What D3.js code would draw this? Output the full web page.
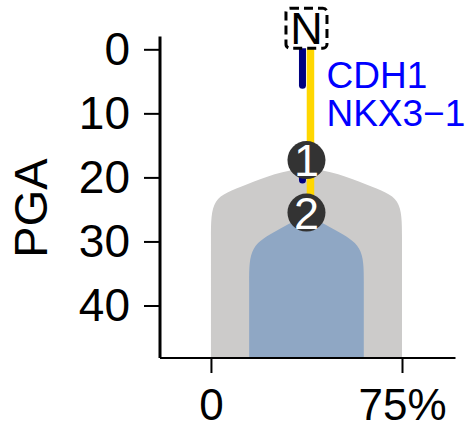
<!DOCTYPE html>
<html><head><meta charset="utf-8">
<script src="https://cdn.jsdelivr.net/npm/d3@7"></script>
<style>body{margin:0;background:#fff;} svg{display:block;font-family:"Liberation Sans",Arial,sans-serif;}</style>
</head><body><svg id="c" width="472" height="432"></svg>
<script>
// ---- data ----
const yTicks = [0, 10, 20, 30, 40];
const xTicks = [0, 75];
const xTickLabels = ["0", "75%"];
// clone outlines (x in %, y in PGA), smoothed with a basis curve
const grayX = [0, 0, 0, 0, 12, 37.5, 63, 75, 75, 75, 75];
const grayY = [48.2, 38, 29, 23.1, 21.5, 17.3, 21.5, 23.1, 29, 38, 48.2];
const blueX = [15, 15, 15, 15, 26, 37.5, 49, 60, 60, 60, 60];
const blueY = [48.2, 44, 36, 30.6, 28.4, 25.4, 28.4, 30.6, 36, 44, 48.2];
// lineage
const lineageX = 37.5;
const yellowSeg = [-0.3, 25.5];
const navySegs = [[-0.3, 5.6], [17.3, 20.4]];
const nodeLabels = ["1", "2"];
const nodePGA = [17.3, 25.5];
const rootLabel = "N";
const rootPGA = -3.3;
const geneLabels = ["CDH1", "NKX3−1"];
const genePGA = 6.0;

// ---- scales ----
const svg = d3.select("#c");
const x = d3.scaleLinear().domain([-20, 96]).range([160, 455.5]);
const y = d3.scaleLinear().domain([-2, 48.2]).range([36.5, 358]);

const line = d3.line().x(d => x(d[0])).y(d => y(d[1])).curve(d3.curveBasis);
svg.append("path").attr("d", line(d3.zip(grayX, grayY)) + "Z").attr("fill", "#cccbca");
svg.append("path").attr("d", line(d3.zip(blueX, blueY)) + "Z").attr("fill", "#8fa7c4");

// axes
const yAxis = svg.append("g").attr("transform", `translate(${x(-20)},0)`)
  .call(d3.axisLeft(y).tickValues(yTicks).tickSize(16).tickPadding(14));
yAxis.select(".domain").attr("stroke-width", 3).attr("d", `M0,${y(-2)}V${y(48.2)}`);
yAxis.selectAll(".tick line").attr("stroke-width", 2);
yAxis.selectAll(".tick text").attr("font-size", 46).attr("font-family", "Liberation Sans, Arial, sans-serif").attr("fill", "#000");

const xAxis = svg.append("g").attr("transform", `translate(0,${y(48.2)})`)
  .call(d3.axisBottom(x).tickValues(xTicks).tickFormat((d, i) => xTickLabels[i]).tickSize(15).tickPadding(16));
xAxis.select(".domain").attr("stroke-width", 2).attr("d", `M${x(-20)},0H${x(96)}`);
xAxis.selectAll(".tick line").attr("stroke-width", 2);
xAxis.selectAll(".tick text").attr("font-size", 44).attr("font-family", "Liberation Sans, Arial, sans-serif").attr("fill", "#000");

svg.append("text").attr("transform", `translate(47,${208}) rotate(-90)`)
  .attr("text-anchor", "middle").attr("font-size", 47).text("PGA");

// lineage lines
const cx = x(lineageX);
svg.append("line").attr("x1", cx + 4).attr("x2", cx + 4)
  .attr("y1", y(yellowSeg[0])).attr("y2", y(yellowSeg[1]))
  .attr("stroke", "#ffd700").attr("stroke-width", 7.5);
navySegs.forEach(s => {
  svg.append("line").attr("x1", cx - 4).attr("x2", cx - 4)
    .attr("y1", y(s[0])).attr("y2", y(s[1]))
    .attr("stroke", "#000080").attr("stroke-width", 7).attr("stroke-linecap", "round");
});
// root box
svg.append("rect").attr("x", cx - 20.5).attr("y", y(rootPGA) - 20).attr("width", 41).attr("height", 40)
  .attr("rx", 4).attr("fill", "#fff").attr("stroke", "#000").attr("stroke-width", 3)
  .attr("stroke-dasharray", "9,5");
svg.append("text").attr("x", cx).attr("y", y(rootPGA) + 16).attr("text-anchor", "middle")
  .attr("font-size", 45).text(rootLabel);

// nodes
nodePGA.forEach((p, i) => {
  svg.append("circle").attr("cx", cx).attr("cy", y(p)).attr("r", 19).attr("fill", "#333");
  svg.append("text").attr("x", cx).attr("y", y(p) + 16).attr("text-anchor", "middle")
    .attr("font-size", 45).attr("fill", "#fff").text(nodeLabels[i]);
});

// gene labels
geneLabels.forEach((g, i) => {
  svg.append("text").attr("x", cx + 20).attr("y", y(genePGA) + 0.5 + i * 38)
    .attr("font-size", 37).attr("fill", "#0000ff").text(g);
});
</script></body></html>
